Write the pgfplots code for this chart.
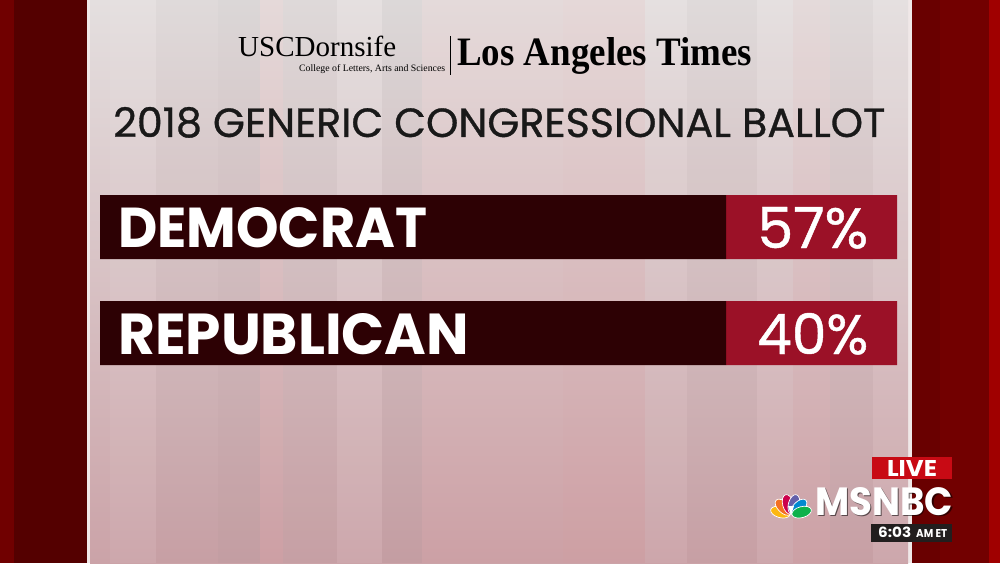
\documentclass[border=0pt]{standalone}
\usepackage{pgfplots}
\pgfplotsset{compat=1.18}
\usepackage{pgfplotstable}
\usepackage{graphicx}
\usepackage{fontspec}
\newfontfamily\popr{Poppins}
\newfontfamily\popm{Poppins}[FakeBold=0.8]
\newfontfamily\lserif{Liberation Serif}
\definecolor{bardark}{RGB}{45,1,4}
\definecolor{boxred}{RGB}{155,17,39}
\definecolor{leftouter}{RGB}{112,0,0}
\definecolor{leftinner}{RGB}{84,0,0}
\definecolor{rightinner}{RGB}{114,0,0}
\definecolor{rightouter}{RGB}{160,0,0}
\definecolor{edgeline}{RGB}{240,232,232}
\definecolor{bgtop}{RGB}{228,223,223}
\definecolor{bgmid}{RGB}{220,206,208}
\definecolor{bgbot}{RGB}{203,163,168}
\definecolor{livered}{RGB}{200,10,20}
\definecolor{timebg}{RGB}{34,30,30}
\definecolor{pyellow}{HTML}{FCB711}
\definecolor{porange}{HTML}{F37021}
\definecolor{pred}{HTML}{CC004C}
\definecolor{ppurple}{HTML}{6460AA}
\definecolor{pblue}{HTML}{0089D0}
\definecolor{pgreen}{HTML}{0DB14B}

% y: bar centre (px from top); lead/body/box: bar segments (px); pct: poll share
\pgfplotstableread{
y lead body box party pct
227 100 626 171 DEMOCRAT 57
333 100 626 171 REPUBLICAN 40
}\ballot

\begin{document}
\pgfplotstablegetelem{0}{party}\of\ballot\edef\partyA{\pgfplotsretval}%
\pgfplotstablegetelem{1}{party}\of\ballot\edef\partyB{\pgfplotsretval}%
\pgfplotstablegetelem{0}{pct}\of\ballot\edef\pctA{\pgfplotsretval}%
\pgfplotstablegetelem{1}{pct}\of\ballot\edef\pctB{\pgfplotsretval}%
\begin{tikzpicture}
% ---- background (unflipped, 1px = 1pt)
\begin{scope}[x=1pt,y=1pt]
\fill[leftouter] (0,0) rectangle (14,563);
\fill[leftinner] (14,0) rectangle (87,563);
\fill[edgeline] (87,0) rectangle (90,563);
\fill[edgeline] (908,0) rectangle (912,563);
\fill[rightinner] (912,0) rectangle (989,563);
\fill[black,opacity=0.08] (912,0) rectangle (940,563);
\fill[rightouter] (989,0) rectangle (1000,563);
\shade[top color=bgtop,middle color=bgmid,bottom color=bgbot] (90,0) rectangle (908,563);
\fill[white,opacity=0.05] (110,0) rectangle (156,563);
\fill[black,opacity=0.02] (156,0) rectangle (218,563);
\fill[black,opacity=0.035] (218,0) rectangle (260,563);
\fill[red!70!white,opacity=0.04] (260,0) rectangle (283,563);
\fill[black,opacity=0.025] (283,0) rectangle (337,563);
\fill[white,opacity=0.05] (337,0) rectangle (382,563);
\fill[black,opacity=0.03] (382,0) rectangle (422,563);
\fill[red!60!white,opacity=0.035] (422,0) rectangle (563,563);
\fill[red!70!white,opacity=0.045] (563,0) rectangle (645,563);
\fill[white,opacity=0.04] (645,0) rectangle (687,563);
\fill[black,opacity=0.02] (687,0) rectangle (757,563);
\fill[white,opacity=0.05] (757,0) rectangle (793,563);
\fill[red!60!white,opacity=0.035] (793,0) rectangle (830,563);
\fill[black,opacity=0.02] (830,0) rectangle (873,563);
\fill[white,opacity=0.05] (873,0) rectangle (908,563);
\end{scope}

% ---- bars
\begin{axis}[at={(0pt,0pt)},anchor=south west,
  width=1000pt,height=563pt,scale only axis,
  xmin=0,xmax=1000,ymin=0,ymax=563,y dir=reverse,
  hide axis,clip=false,enlargelimits=false,
  xbar stacked,bar width=64pt]
\addplot[draw=none,fill=none] table[x=lead,y=y]{\ballot};
\addplot[draw=none,fill=bardark] table[x=body,y=y]{\ballot};
\addplot[draw=none,fill=boxred] table[x=box,y=y]{\ballot};
\end{axis}

% ---- texts (flipped: y in px from top)
\begin{scope}[x=1pt,y=1pt,shift={(0pt,563pt)},yscale=-1]
\node[anchor=base west,inner sep=0pt,text=white] at (118,247) {\resizebox{309pt}{40pt}{\popr\bfseries \partyA}};
\node[anchor=base west,inner sep=0pt,text=white] at (118,354) {\resizebox{351pt}{41pt}{\popr\bfseries \partyB}};
\node[anchor=base west,inner sep=0pt,text=white] at (757,248) {\resizebox{111pt}{41pt}{\popm \pctA\%}};
\node[anchor=base west,inner sep=0pt,text=white] at (757,354) {\resizebox{111pt}{41pt}{\popm \pctB\%}};
\node[anchor=base west,inner sep=0pt] at (238,57) {\resizebox{158pt}{!}{\lserif USCDornsife}};
\node[anchor=base west,inner sep=0pt] at (299,72) {\resizebox{146pt}{!}{\lserif College of Letters, Arts and Sciences}};
\draw[line width=1pt] (450,36) -- (450,75);
\node[anchor=base west,inner sep=0pt] at (457,66) {\resizebox{295pt}{28pt}{\lserif\bfseries Los Angeles Times}};
\node[anchor=base west,inner sep=0pt,text=black!90] at (113,137) {\resizebox{772pt}{30pt}{\popm 2018 GENERIC CONGRESSIONAL BALLOT}};
\fill[livered] (872,457) rectangle (952,479);
\node[anchor=base,inner sep=0pt,text=white] at (912,476) {\resizebox{50pt}{16pt}{\popr\bfseries LIVE}};
\fill[timebg] (871,524) rectangle (952,542);
\node[anchor=base west,inner sep=0pt,text=white] at (878,537) {\resizebox{33pt}{10.5pt}{\popr\bfseries 6:03}\hspace{5pt}\resizebox{31pt}{8pt}{\popr\bfseries AM ET}};
\node[anchor=base west,inner sep=0pt,text=black,opacity=0.55] at (816.5,516.5) {\resizebox{138pt}{28pt}{\popr\bfseries MSNBC}};
\node[anchor=base west,inner sep=0pt,text=white] at (815,515) {\resizebox{138pt}{28pt}{\popr\bfseries MSNBC}};
\end{scope}

% ---- peacock
\begin{scope}[x=1pt,y=1pt,shift={(791pt,48pt)}]
\fill[pyellow,draw=white,line width=0.7pt,rotate=165] (11,0) ellipse [x radius=10pt,y radius=5.5pt];
\fill[porange,draw=white,line width=0.7pt,rotate=135] (11,0) ellipse [x radius=10pt,y radius=5.5pt];
\fill[pred,draw=white,line width=0.7pt,rotate=105] (11,0) ellipse [x radius=10pt,y radius=5.5pt];
\fill[ppurple,draw=white,line width=0.7pt,rotate=75] (11,0) ellipse [x radius=10pt,y radius=5.5pt];
\fill[pblue,draw=white,line width=0.7pt,rotate=45] (11,0) ellipse [x radius=10pt,y radius=5.5pt];
\fill[pgreen,draw=white,line width=0.7pt,rotate=15] (11,0) ellipse [x radius=10pt,y radius=5.5pt];
\fill[white] (0,0) -- (-3,9) -- (3,9) -- cycle;
\end{scope}
\end{tikzpicture}
\end{document}
